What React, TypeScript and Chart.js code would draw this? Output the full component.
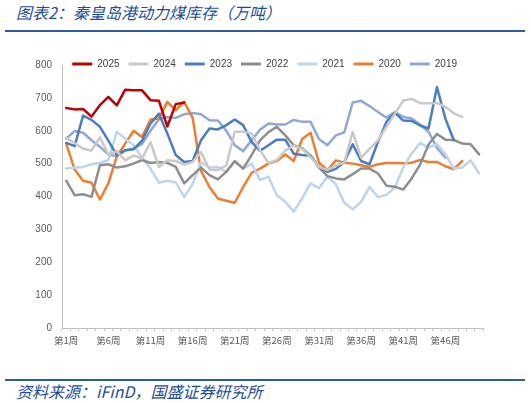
import React, { useEffect, useRef } from "react";
import { Chart, registerables } from "chart.js";

Chart.register(...registerables);

const weeks = [
  "第1周", "第2周", "第3周", "第4周", "第5周", "第6周", "第7周", "第8周", "第9周", "第10周",
  "第11周", "第12周", "第13周", "第14周", "第15周", "第16周", "第17周", "第18周", "第19周", "第20周",
  "第21周", "第22周", "第23周", "第24周", "第25周", "第26周", "第27周", "第28周", "第29周", "第30周",
  "第31周", "第32周", "第33周", "第34周", "第35周", "第36周", "第37周", "第38周", "第39周", "第40周",
  "第41周", "第42周", "第43周", "第44周", "第45周", "第46周", "第47周", "第48周", "第49周", "第50周",
];

const seriesNames = ["2025", "2024", "2023", "2022", "2021", "2020", "2019"];
const seriesColors = ["#C00000", "#C9C9C9", "#4A7DC4", "#8E8E8E", "#BDD3EE", "#ED7D31", "#8FA8D8"];

const s2025 = [669, 665, 666, 643, 678, 703, 677, 725, 723, 723, 693, 691, 613, 681, 686];
const s2024 = [578, 563, 545, 540, 580, 528, 538, 510, 525, 515, 565, 490, 510, 508, 497, 505, 535, 482, 480, 495,
  597, 597, 592, 541, 502, 511, 540, 555, 545, 520, 490, 480, 495, 503, 596, 518, 545, 571, 612, 652,
  692, 697, 684, 684, 684, 673, 653, 642];
const s2023 = [563, 553, 646, 633, 612, 570, 526, 541, 544, 570, 622, 652, 592, 526, 505, 508, 571, 607, 604, 617,
  634, 617, 566, 539, 556, 573, 573, 530, 526, 524, 490, 475, 484, 505, 559, 508, 498, 566, 627, 655,
  631, 630, 616, 607, 733, 637, 571];
const s2022 = [448, 404, 407, 399, 495, 498, 488, 492, 500, 511, 502, 505, 502, 490, 440, 465, 488, 465, 452, 475,
  508, 485, 526, 571, 596, 612, 586, 556, 547, 524, 488, 462, 455, 452, 468, 485, 485, 470, 433, 430,
  421, 455, 497, 558, 590, 573, 572, 561, 559, 528];
const s2021 = [485, 488, 490, 498, 502, 511, 597, 576, 556, 518, 485, 442, 448, 443, 398, 438, 505, 488, 490, 475,
  505, 485, 500, 450, 460, 404, 384, 354, 394, 440, 425, 460, 438, 380, 361, 384, 429, 398, 405, 427,
  488, 531, 563, 549, 559, 529, 485, 488, 510, 470];
const s2020 = [561, 482, 448, 442, 391, 440, 521, 561, 600, 581, 634, 637, 688, 663, 688, 640, 478, 429, 394, 387,
  381, 429, 472, 485, 500, 508, 528, 508, 575, 594, 503, 480, 510, 503, 500, 495, 490, 498, 502, 502,
  501, 503, 511, 505, 505, 492, 483, 508];
const s2019 = [576, 599, 594, 571, 551, 528, 522, 540, 545, 560, 600, 635, 642, 639, 650, 654, 650, 632, 631, 600,
  556, 538, 571, 603, 622, 619, 619, 633, 627, 627, 575, 556, 586, 595, 686, 691, 675, 657, 640, 656,
  642, 637, 618, 597, 548, 518];

const seriesValues = [s2025, s2024, s2023, s2022, s2021, s2020, s2019];
const yTicks = [0, 100, 200, 300, 400, 500, 600, 700, 800];

const FONT = "'Liberation Sans', 'Noto Sans CJK SC', sans-serif";
const CJK = "'Noto Sans CJK SC', 'Liberation Sans', sans-serif";

// moves the legend row down onto the top line of the plot, as in the source
const legendShift = {
  id: "legendShift",
  afterLayout(chart: any) {
    const lg = chart.legend;
    if (!lg) return;
    const dy = 14;
    const dx = 23;
    lg.top += dy;
    lg.bottom += dy;
    lg.left += dx;
    lg.right += dx;
  },
};

export default function App() {
  const ref = useRef<HTMLCanvasElement | null>(null);

  useEffect(() => {
    if (!ref.current) return;
    Chart.defaults.font.family = FONT;
    const chart = new Chart(ref.current, {
      type: "line",
      data: {
        labels: weeks,
        datasets: seriesNames.map((name, i) => ({
          label: name,
          data: seriesValues[i],
          borderColor: seriesColors[i],
          backgroundColor: seriesColors[i],
          borderWidth: 2.5,
          pointRadius: 0,
          pointHoverRadius: 0,
          tension: 0,
          fill: false,
          borderJoinStyle: "round" as const,
          borderCapStyle: "round" as const,
        })),
      },
      options: {
        responsive: false,
        animation: false,
        events: [],
        layout: { padding: { left: 0, right: 47.7, top: 0, bottom: 12 } },
        plugins: {
          tooltip: { enabled: false },
          legend: {
            position: "top",
            align: "center",
            labels: {
              boxWidth: 20,
              boxHeight: 3,
              padding: 9,
              color: "#404040",
              font: { size: 10, family: FONT },
              generateLabels: (c: any) =>
                Chart.defaults.plugins.legend.labels.generateLabels(c).map((l: any) => ({ ...l, lineWidth: 0 })),
            },
          },
        },
        scales: {
          x: {
            type: "category",
            offset: true,
            grid: {
              display: true,
              drawOnChartArea: false,
              drawTicks: true,
              tickLength: 3,
              color: "#BFBFBF",
              offset: true,
            },
            border: { display: true, color: "#BFBFBF", width: 1 },
            ticks: {
              autoSkip: false,
              maxRotation: 0,
              minRotation: 0,
              padding: 4,
              color: "#595959",
              font: { size: 9.5, family: CJK },
              callback: (_v: any, i: number) => (i % 5 === 0 ? weeks[i] : ""),
            },
            afterFit: (s: any) => {
              s.height = 20;
            },
          },
          y: {
            min: 0,
            max: 800,
            afterBuildTicks: (s: any) => {
              s.ticks = yTicks.map((v) => ({ value: v }));
            },
            grid: { display: false, drawTicks: false },
            border: { display: true, color: "#BFBFBF", width: 1 },
            ticks: {
              padding: 10,
              color: "#595959",
              font: { size: 10, family: FONT },
            },
            afterFit: (s: any) => {
              s.width = 62;
            },
          },
        },
      },
      plugins: [legendShift],
    } as any);
    return () => chart.destroy();
  }, []);

  const blue = "#1F4E96";
  return (
    <div style={{ position: "absolute", left: 0, top: 0, width: 531, height: 403, background: "#fff", overflow: "hidden" }}>
      <div
        style={{
          position: "absolute",
          left: 16,
          top: 3,
          fontFamily: CJK,
          fontStyle: "italic",
          fontSize: 16,
          lineHeight: "19px",
          color: blue,
          whiteSpace: "nowrap",
        }}
      >
        图表2：秦皇岛港动力煤库存（万吨）
      </div>
      <div style={{ position: "absolute", left: 5, top: 30, width: 520, height: 2, background: "#2F5B9F" }} />
      <canvas ref={ref} width={531} height={324} style={{ position: "absolute", left: 0, top: 36, width: 531, height: 324 }} />
      <div style={{ position: "absolute", left: 5, top: 379, width: 520, height: 2, background: "#2F5B9F" }} />
      <div
        style={{
          position: "absolute",
          left: 16,
          top: 382,
          fontFamily: CJK,
          fontStyle: "italic",
          fontSize: 16,
          lineHeight: "19px",
          color: blue,
          whiteSpace: "nowrap",
        }}
      >
        资料来源：iFinD，国盛证券研究所
      </div>
    </div>
  );
}
